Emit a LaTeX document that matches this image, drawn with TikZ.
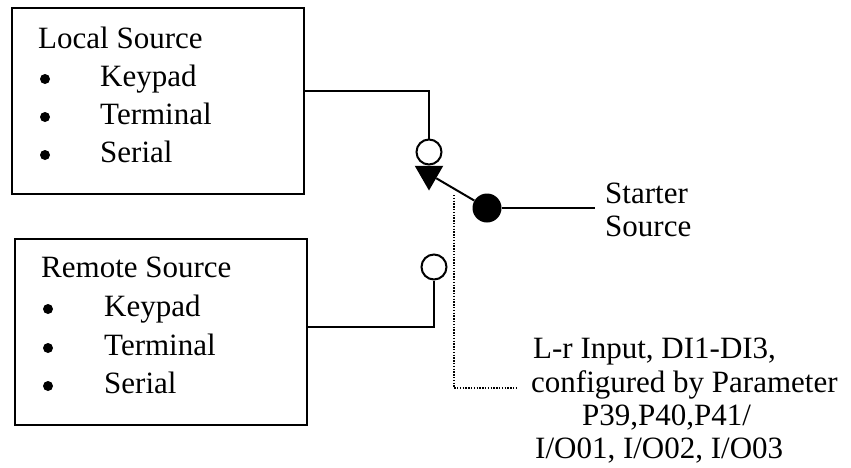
\documentclass[tikz,border=0pt]{standalone}
\usepackage{fontspec}
\setmainfont{Liberation Serif}
\usetikzlibrary{shapes.geometric}
\begin{document}
\begin{tikzpicture}[x=1pt,y=-1pt,
  box/.style={draw,line width=2.2pt,inner sep=0pt,anchor=north west},
  wire/.style={line width=2pt},
  dotline/.style={line width=1.7pt,dash pattern=on 1.4pt off 1.4pt},
  txt/.style={anchor=base west,inner sep=0pt,font=\fontsize{31}{36}\selectfont},
  bul/.style={circle,fill,inner sep=0pt,minimum size=10pt},
  opencirc/.style={circle,draw,line width=2pt,minimum size=25pt,inner sep=0pt},
  dotcirc/.style={circle,fill,minimum size=29pt,inner sep=0pt},
  tri/.style={regular polygon,regular polygon sides=3,shape border rotate=180,fill,inner sep=0pt,minimum size=33pt}]
\useasboundingbox (0,0) rectangle (851,467);

% boxes
\node[box,minimum width=292pt,minimum height=186pt] (box1) at (11,7) {};
\node[box,minimum width=292pt,minimum height=186pt] (box2) at (14,238) {};

% box 1 text
\node[txt] (l0) at (38,48) {Local Source};
\node[bul] (lb1) at (45,79) {};
\node[txt] (l1) at (100,86) {Keypad};
\node[bul] (lb2) at (45,117) {};
\node[txt] (l2) at (100,124) {Terminal};
\node[bul] (lb3) at (45,155) {};
\node[txt] (l3) at (100,162) {Serial};

% box 2 text
\node[txt] (r0) at (41,277) {Remote Source};
\node[bul] (rb1) at (48,309) {};
\node[txt] (r1) at (104,316) {Keypad};
\node[bul] (rb2) at (48,348) {};
\node[txt] (r2) at (104,355) {Terminal};
\node[bul] (rb3) at (48,386) {};
\node[txt] (r3) at (104,393) {Serial};

% switch elements
\node[opencirc] (c1) at (429,152) {};
\node[opencirc] (c2) at (434,267) {};
\node[tri] (arr) at (429,174) {};
\node[dotcirc] (dot) at (487,208) {};
\coordinate (sEnd) at (595,208);
\coordinate (j1) at (303,91);
\coordinate (j2) at (306,327);

\draw[wire] (j1) -| (c1.north);
\draw[wire] (j2) -| (c2.south);
\draw[wire] (dot) -- (arr);
\draw[wire] (dot) -- (sEnd);

% starter source label
\node[txt] (s1) at (605,203) {Starter};
\node[txt] (s2) at (605,236) {Source};

% control text
\node[txt] (t1) at (533,358) {L-r Input, DI1-DI3,};
\node[txt] (t2) at (531,392) {configured by Parameter};
\node[txt] (t3) at (582,425) {P39,P40,P41/};
\node[txt] (t4) at (535,458) {I/O01, I/O02, I/O03};

\coordinate (ctl) at (454,195);
\coordinate (dend) at (517,388);
\draw[dotline] (ctl) |- (dend);
\end{tikzpicture}
\end{document}
